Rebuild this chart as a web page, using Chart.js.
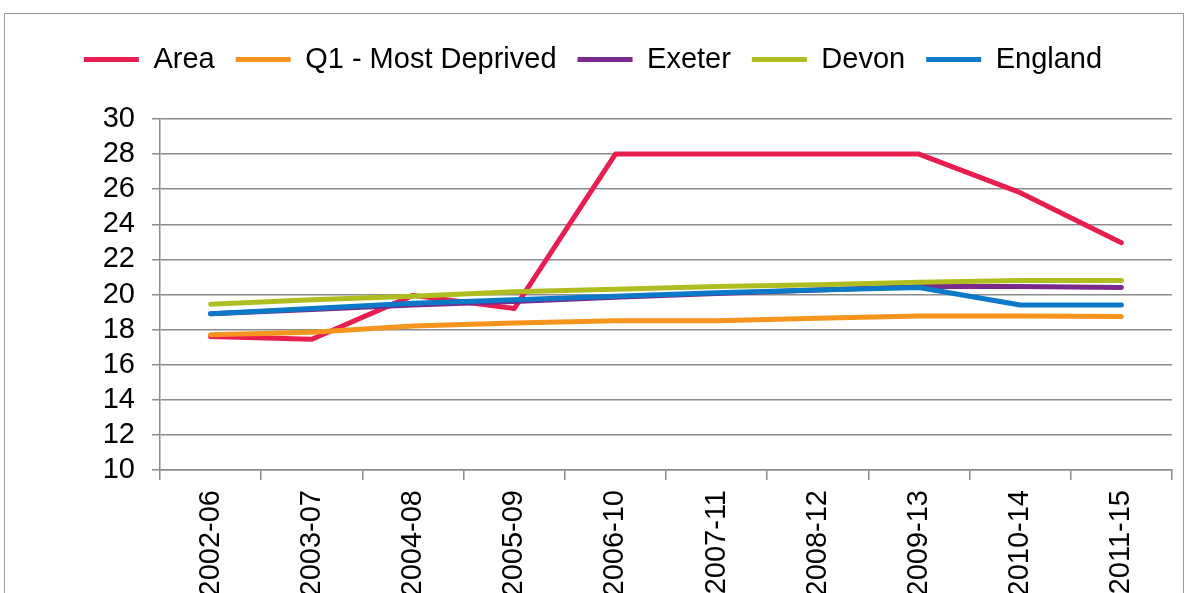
<!DOCTYPE html>
<html>
<head>
<meta charset="utf-8">
<script src="https://cdn.jsdelivr.net/npm/chart.js@4/dist/chart.umd.min.js"></script>
<style>
    html, body { margin: 0; padding: 0; background: #ffffff; overflow: hidden; }
    #frame {
        position: absolute; left: 4px; top: 13px;
        width: 1178px; height: 660px;
        border: 1.5px solid #9a9a9a;
    }
    #wrap { position: absolute; left: 0; top: 0; }
</style>
</head>
<body>
<div id="frame"></div>
<div id="wrap"><canvas id="chart" width="1186" height="640"></canvas></div>
<script>
const periods = ['2002-06', '2003-07', '2004-08', '2005-09', '2006-10', '2007-11', '2008-12', '2009-13', '2010-14', '2011-15'];

const area = [17.6, 17.45, 19.95, 19.2, 28, 28, 28, 28, 25.8, 22.95];
const q1MostDeprived = [17.7, 17.85, 18.2, 18.37, 18.5, 18.5, 18.64, 18.77, 18.77, 18.74];
const exeter = [18.9, 19.15, 19.4, 19.6, 19.85, 20.05, 20.25, 20.45, 20.45, 20.4];
const devon = [19.45, 19.7, 19.9, 20.15, 20.3, 20.45, 20.55, 20.7, 20.8, 20.8];
const england = [18.9, 19.2, 19.5, 19.7, 19.9, 20.1, 20.25, 20.4, 19.4, 19.4];

const yTicks = { min: 10, max: 30, step: 2 };

const fontFamily = "'Liberation Sans', Arial, sans-serif";
const gridColor = '#8c8c8c';

function makeSeries(label, data, color, order) {
    return {
        label: label,
        data: data,
        borderColor: color,
        backgroundColor: color,
        borderWidth: 5,
        borderCapStyle: 'round',
        borderJoinStyle: 'round',
        pointRadius: 0,
        pointHoverRadius: 0,
        tension: 0,
        fill: false,
        order: order
    };
}

// push the plot down below the legend, like the original
const legendGap = {
    id: 'legendGap',
    beforeLayout(chart) {
        const legend = chart.legend;
        if (!legend || legend._gapPatched) return;
        const fit = legend.fit;
        legend.fit = function () {
            fit.call(this);
            this.height += 35;
        };
        legend._gapPatched = true;
    }
};

const ctx = document.getElementById('chart').getContext('2d');
const chart = new Chart(ctx, {
    type: 'line',
    data: {
        labels: periods,
        datasets: [
            makeSeries('Area', area, '#E91E50', 5),
            makeSeries('Q1 - Most Deprived', q1MostDeprived, '#F7941D', 4),
            makeSeries('Exeter', exeter, '#7A2A8C', 3),
            makeSeries('Devon', devon, '#B0BD20', 2),
            makeSeries('England', england, '#0A7AC8', 1)
        ]
    },
    options: {
        responsive: false,
        animation: false,
        layout: {
            padding: { top: 24, left: 14, right: 14, bottom: 0 }
        },
        plugins: {
            legend: {
                position: 'top',
                align: 'center',
                labels: {
                    usePointStyle: true,
                    pointStyle: 'line',
                    pointStyleWidth: 55,
                    boxHeight: 5,
                    padding: 21,
                    color: '#000000',
                    font: { family: fontFamily, size: 29 },
                    sort: (a, b) => a.datasetIndex - b.datasetIndex
                }
            },
            tooltip: { enabled: false }
        },
        scales: {
            x: {
                offset: true,
                afterFit: (scale) => { scale.height = 170; },
                grid: {
                    offset: true,
                    drawOnChartArea: false,
                    drawTicks: true,
                    tickLength: 10,
                    color: gridColor,
                    lineWidth: 1.5
                },
                border: { display: true, color: gridColor, width: 1.5 },
                ticks: {
                    minRotation: 90,
                    maxRotation: 90,
                    autoSkip: false,
                    padding: 10,
                    color: '#000000',
                    font: { family: fontFamily, size: 29 }
                }
            },
            y: {
                min: yTicks.min,
                max: yTicks.max,
                afterFit: (scale) => { scale.width = 146; },
                grid: {
                    color: gridColor,
                    lineWidth: 1.5,
                    drawTicks: true,
                    tickLength: 8
                },
                border: { display: true, color: gridColor, width: 1.5 },
                ticks: {
                    stepSize: yTicks.step,
                    autoSkip: false,
                    padding: 17,
                    color: '#000000',
                    font: { family: fontFamily, size: 29 }
                }
            }
        }
    },
    plugins: [legendGap]
});
</script>
</body>
</html>
